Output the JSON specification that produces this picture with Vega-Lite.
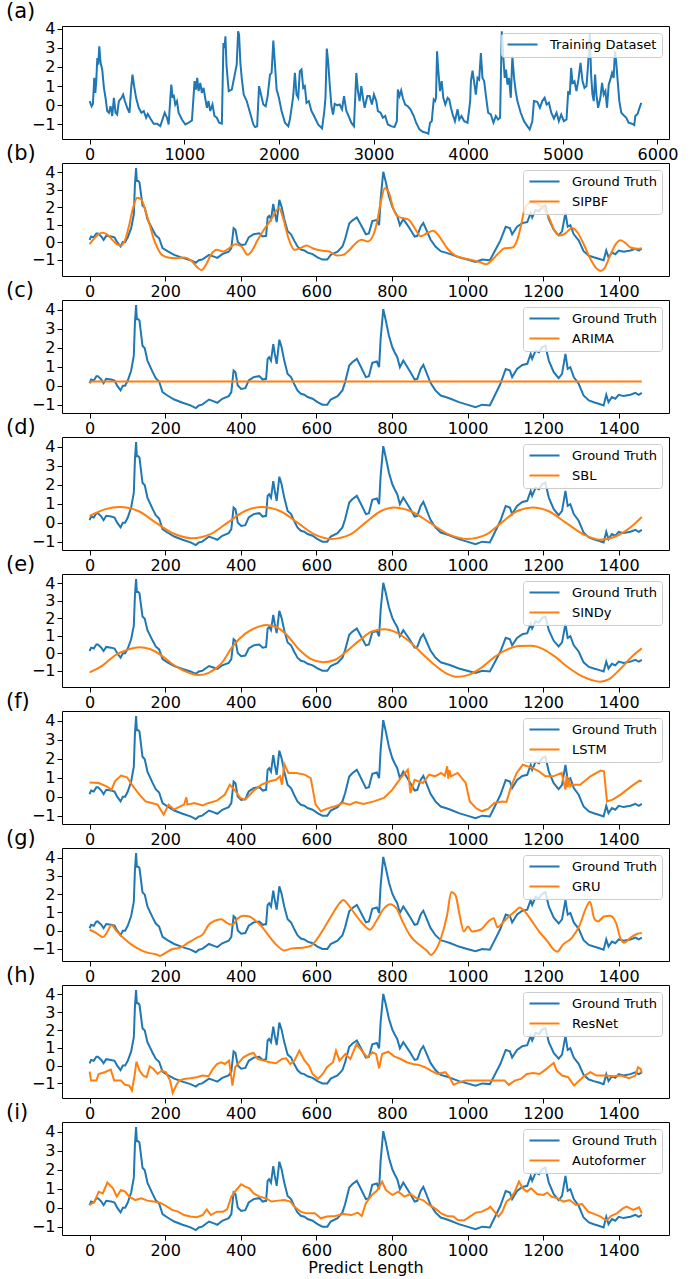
{
"$schema": "https://vega.github.io/schema/vega-lite/v6.json",
"padding": {"left": 5, "right": 5, "top": 0, "bottom": 2},
"background": "white",
"config": {
 "font": "DejaVu Sans",
 "view": {"stroke": "#000", "strokeWidth": 1},
 "axis": {"domain": false, "grid": false, "labelFontSize": 16, "labelFont": "DejaVu Sans", "labelColor": "#000", "tickColor": "#000", "tickSize": 5, "tickWidth": 1, "labelPadding": 2, "titleFontSize": 16, "titleFont": "DejaVu Sans", "titleFontWeight": "normal", "titleColor": "#000", "titlePadding": 1, "labelOverlap": false, "labelFlush": false, "format": "d"},
 "legend": {"orient": "top-right", "offset": 7, "fillColor": "rgba(255,255,255,0.8)", "strokeColor": "#cccccc", "cornerRadius": 3, "padding": 5, "labelFontSize": 13, "labelFont": "DejaVu Sans", "labelColor": "#000", "symbolType": "M-1,0H5", "symbolSize": 100, "symbolStrokeWidth": 2, "rowPadding": 6, "labelOffset": 31},
 "title": {"fontSize": 21, "font": "DejaVu Sans", "fontWeight": "normal", "anchor": "start", "frame": "group", "dx": -56, "offset": -1, "baseline": "alphabetic", "color": "#000"},
 "line": {"strokeWidth": 2}
},
"datasets": {
 "train": [{"x":0,"y":0.22},{"x":21,"y":-0.05},{"x":35,"y":0.08},{"x":49,"y":1.43},{"x":60,"y":0.65},{"x":70,"y":1.26},{"x":81,"y":2.47},{"x":91,"y":2.12},{"x":102,"y":3.08},{"x":116,"y":2.21},{"x":133,"y":1.87},{"x":151,"y":0.91},{"x":168,"y":0.39},{"x":186,"y":-0.3},{"x":204,"y":-0.39},{"x":221,"y":-0.05},{"x":239,"y":-0.56},{"x":256,"y":0.39},{"x":274,"y":-0.39},{"x":291,"y":-0.48},{"x":309,"y":0.22},{"x":337,"y":0.39},{"x":354,"y":0.56},{"x":372,"y":0.22},{"x":397,"y":-0.13},{"x":421,"y":-0.39},{"x":439,"y":0.91},{"x":453,"y":1.6},{"x":470,"y":1.0},{"x":491,"y":0.39},{"x":519,"y":-0.13},{"x":547,"y":-0.39},{"x":572,"y":-0.3},{"x":597,"y":-0.65},{"x":614,"y":-0.45},{"x":642,"y":-0.69},{"x":677,"y":-0.96},{"x":712,"y":-0.96},{"x":747,"y":-1.09},{"x":793,"y":-0.39},{"x":818,"y":-0.65},{"x":835,"y":-1.0},{"x":853,"y":0.39},{"x":863,"y":1.08},{"x":877,"y":0.39},{"x":888,"y":0.56},{"x":905,"y":0.04},{"x":923,"y":0.22},{"x":940,"y":-0.39},{"x":975,"y":-0.74},{"x":1011,"y":-1.0},{"x":1046,"y":-0.91},{"x":1081,"y":-0.79},{"x":1109,"y":1.26},{"x":1123,"y":0.82},{"x":1137,"y":1.43},{"x":1151,"y":0.74},{"x":1169,"y":1.17},{"x":1186,"y":0.65},{"x":1204,"y":0.91},{"x":1221,"y":0.39},{"x":1239,"y":-0.13},{"x":1256,"y":0.22},{"x":1274,"y":-0.3},{"x":1298,"y":0.04},{"x":1319,"y":-0.56},{"x":1344,"y":-0.65},{"x":1368,"y":-0.91},{"x":1397,"y":-0.96},{"x":1414,"y":3.25},{"x":1425,"y":2.99},{"x":1435,"y":3.6},{"x":1446,"y":2.12},{"x":1460,"y":1.26},{"x":1470,"y":0.74},{"x":1502,"y":0.82},{"x":1537,"y":1.69},{"x":1554,"y":2.12},{"x":1569,"y":3.86},{"x":1579,"y":3.69},{"x":1593,"y":2.21},{"x":1607,"y":1.43},{"x":1628,"y":0.56},{"x":1660,"y":0.22},{"x":1695,"y":-0.39},{"x":1730,"y":-1.0},{"x":1748,"y":-1.14},{"x":1770,"y":-1.1},{"x":1790,"y":1.0},{"x":1811,"y":0.56},{"x":1835,"y":0.04},{"x":1860,"y":-0.05},{"x":1881,"y":0.48},{"x":1906,"y":1.6},{"x":1923,"y":1.69},{"x":1941,"y":3.38},{"x":1958,"y":2.12},{"x":1976,"y":0.82},{"x":2000,"y":0.39},{"x":2028,"y":-0.3},{"x":2064,"y":-0.91},{"x":2099,"y":-1.09},{"x":2116,"y":-0.74},{"x":2134,"y":-0.13},{"x":2151,"y":0.48},{"x":2169,"y":1.69},{"x":2186,"y":0.56},{"x":2204,"y":0.39},{"x":2221,"y":1.78},{"x":2239,"y":1.87},{"x":2257,"y":0.91},{"x":2274,"y":1.0},{"x":2292,"y":0.13},{"x":2316,"y":0.22},{"x":2344,"y":-0.3},{"x":2372,"y":-0.56},{"x":2414,"y":-1.0},{"x":2456,"y":-1.21},{"x":2478,"y":-0.39},{"x":2492,"y":0.39},{"x":2506,"y":2.96},{"x":2520,"y":2.3},{"x":2537,"y":1.08},{"x":2555,"y":-0.05},{"x":2572,"y":-0.48},{"x":2590,"y":0.08},{"x":2618,"y":0.0},{"x":2643,"y":0.04},{"x":2667,"y":-0.21},{"x":2688,"y":0.48},{"x":2713,"y":-0.3},{"x":2737,"y":-0.56},{"x":2765,"y":-0.91},{"x":2793,"y":-1.09},{"x":2818,"y":1.69},{"x":2835,"y":0.74},{"x":2853,"y":0.22},{"x":2871,"y":1.0},{"x":2888,"y":0.39},{"x":2906,"y":-0.13},{"x":2934,"y":0.48},{"x":2958,"y":0.48},{"x":2983,"y":0.04},{"x":3004,"y":0.56},{"x":3029,"y":0.22},{"x":3046,"y":-0.3},{"x":3074,"y":-0.39},{"x":3099,"y":-0.65},{"x":3123,"y":-0.56},{"x":3151,"y":-1.0},{"x":3186,"y":-1.09},{"x":3221,"y":-1.14},{"x":3246,"y":-0.83},{"x":3257,"y":0.82},{"x":3274,"y":0.48},{"x":3292,"y":0.77},{"x":3309,"y":0.39},{"x":3334,"y":0.04},{"x":3362,"y":-0.05},{"x":3390,"y":-0.21},{"x":3425,"y":-0.56},{"x":3450,"y":-0.91},{"x":3485,"y":-1.26},{"x":3520,"y":-1.38},{"x":3555,"y":-1.43},{"x":3579,"y":-1.49},{"x":3597,"y":-0.91},{"x":3615,"y":-0.83},{"x":3636,"y":0.3},{"x":3650,"y":0.22},{"x":3660,"y":0.39},{"x":3671,"y":2.82},{"x":3685,"y":1.78},{"x":3702,"y":0.74},{"x":3720,"y":1.26},{"x":3737,"y":0.39},{"x":3758,"y":0.04},{"x":3783,"y":0.39},{"x":3800,"y":0.3},{"x":3818,"y":-0.13},{"x":3836,"y":-0.48},{"x":3860,"y":-0.83},{"x":3888,"y":-0.21},{"x":3906,"y":-0.74},{"x":3930,"y":-0.56},{"x":3958,"y":-0.83},{"x":3993,"y":-0.91},{"x":4021,"y":0.22},{"x":4029,"y":1.26},{"x":4046,"y":1.81},{"x":4064,"y":1.17},{"x":4081,"y":0.56},{"x":4099,"y":1.43},{"x":4116,"y":1.34},{"x":4134,"y":2.73},{"x":4151,"y":1.43},{"x":4169,"y":1.26},{"x":4186,"y":0.56},{"x":4211,"y":-0.39},{"x":4239,"y":-0.48},{"x":4267,"y":-0.91},{"x":4292,"y":-0.56},{"x":4316,"y":-0.74},{"x":4337,"y":-0.65},{"x":4355,"y":3.86},{"x":4372,"y":2.47},{"x":4386,"y":1.43},{"x":4400,"y":1.87},{"x":4415,"y":1.08},{"x":4432,"y":1.43},{"x":4450,"y":0.39},{"x":4467,"y":2.56},{"x":4485,"y":1.43},{"x":4502,"y":0.74},{"x":4520,"y":0.22},{"x":4555,"y":-0.39},{"x":4590,"y":-0.83},{"x":4625,"y":-1.09},{"x":4650,"y":-1.26},{"x":4678,"y":-0.83},{"x":4695,"y":0.22},{"x":4730,"y":0.18},{"x":4758,"y":-0.13},{"x":4783,"y":0.22},{"x":4808,"y":0.39},{"x":4829,"y":0.04},{"x":4853,"y":0.13},{"x":4878,"y":-0.39},{"x":4906,"y":-0.69},{"x":4934,"y":-0.39},{"x":4958,"y":-0.83},{"x":4983,"y":-0.48},{"x":5011,"y":-0.83},{"x":5039,"y":-0.74},{"x":5057,"y":0.74},{"x":5074,"y":0.56},{"x":5088,"y":1.95},{"x":5102,"y":1.17},{"x":5123,"y":1.26},{"x":5144,"y":0.74},{"x":5165,"y":1.34},{"x":5187,"y":2.21},{"x":5208,"y":1.26},{"x":5229,"y":0.91},{"x":5250,"y":1.0},{"x":5267,"y":2.12},{"x":5285,"y":3.77},{"x":5299,"y":1.6},{"x":5313,"y":0.56},{"x":5327,"y":0.22},{"x":5341,"y":1.6},{"x":5355,"y":0.56},{"x":5373,"y":-0.13},{"x":5397,"y":0.39},{"x":5415,"y":1.17},{"x":5432,"y":0.56},{"x":5450,"y":0.74},{"x":5467,"y":-0.13},{"x":5485,"y":1.08},{"x":5502,"y":1.34},{"x":5520,"y":1.69},{"x":5537,"y":1.43},{"x":5551,"y":2.82},{"x":5565,"y":2.21},{"x":5580,"y":1.26},{"x":5597,"y":0.22},{"x":5618,"y":-0.39},{"x":5643,"y":-0.52},{"x":5671,"y":-0.65},{"x":5695,"y":-0.91},{"x":5730,"y":-0.96},{"x":5755,"y":-1.03},{"x":5766,"y":-0.56},{"x":5790,"y":-0.45},{"x":5811,"y":-0.13},{"x":5829,"y":0.13}],
 "gt": [{"x":0,"y":0.13},{"x":4,"y":0.32},{"x":11,"y":0.27},{"x":18,"y":0.5},{"x":22,"y":0.5},{"x":31,"y":0.32},{"x":37,"y":0.13},{"x":44,"y":0.36},{"x":57,"y":0.32},{"x":66,"y":0.27},{"x":73,"y":0},{"x":82,"y":-0.25},{"x":88,"y":0},{"x":94,"y":0},{"x":101,"y":0.27},{"x":110,"y":0.8},{"x":117,"y":1.58},{"x":120,"y":3.33},{"x":123,"y":4.24},{"x":125,"y":3.5},{"x":129,"y":3.5},{"x":132,"y":3.42},{"x":140,"y":2.1},{"x":146,"y":1.97},{"x":153,"y":1.32},{"x":167,"y":0.71},{"x":175,"y":0.39},{"x":184,"y":0.22},{"x":193,"y":-0.34},{"x":206,"y":-0.52},{"x":224,"y":-0.73},{"x":246,"y":-0.9},{"x":267,"y":-1.04},{"x":281,"y":-1.18},{"x":289,"y":-1.04},{"x":298,"y":-1.0},{"x":316,"y":-0.73},{"x":329,"y":-0.83},{"x":338,"y":-0.9},{"x":351,"y":-0.69},{"x":368,"y":-0.55},{"x":375,"y":-0.34},{"x":381,"y":0.8},{"x":386,"y":0.71},{"x":392,"y":0.01},{"x":401,"y":-0.17},{"x":412,"y":-0.13},{"x":421,"y":0.27},{"x":434,"y":0.45},{"x":449,"y":0.5},{"x":458,"y":0.32},{"x":467,"y":0.36},{"x":471,"y":1.41},{"x":475,"y":1.5},{"x":480,"y":1.32},{"x":486,"y":2.19},{"x":490,"y":1.67},{"x":495,"y":1.15},{"x":502,"y":2.42},{"x":508,"y":2.02},{"x":515,"y":1.32},{"x":524,"y":0.62},{"x":533,"y":0.45},{"x":541,"y":0.1},{"x":550,"y":-0.25},{"x":559,"y":-0.43},{"x":568,"y":-0.48},{"x":577,"y":-0.6},{"x":590,"y":-0.69},{"x":603,"y":-0.87},{"x":616,"y":-1.0},{"x":629,"y":-1.0},{"x":638,"y":-0.73},{"x":656,"y":-0.55},{"x":669,"y":-0.25},{"x":676,"y":0.18},{"x":687,"y":1.06},{"x":695,"y":1.23},{"x":707,"y":1.41},{"x":717,"y":1.02},{"x":731,"y":0.45},{"x":739,"y":0.5},{"x":748,"y":1.2},{"x":760,"y":1.27},{"x":766,"y":0.97},{"x":770,"y":2.45},{"x":777,"y":4.03},{"x":783,"y":3.5},{"x":792,"y":2.63},{"x":801,"y":2.02},{"x":807,"y":1.76},{"x":814,"y":1.5},{"x":821,"y":0.97},{"x":830,"y":1.32},{"x":841,"y":0.97},{"x":849,"y":0.71},{"x":860,"y":0.32},{"x":867,"y":0.36},{"x":876,"y":0.88},{"x":883,"y":1.09},{"x":889,"y":0.8},{"x":902,"y":0.15},{"x":915,"y":-0.25},{"x":929,"y":-0.52},{"x":942,"y":-0.6},{"x":955,"y":-0.69},{"x":977,"y":-0.87},{"x":999,"y":-1.0},{"x":1021,"y":-1.13},{"x":1039,"y":-1.0},{"x":1059,"y":-1.04},{"x":1070,"y":-0.6},{"x":1087,"y":0.1},{"x":1101,"y":0.88},{"x":1112,"y":0.8},{"x":1118,"y":0.45},{"x":1131,"y":0.88},{"x":1145,"y":1.09},{"x":1158,"y":1.15},{"x":1167,"y":1.67},{"x":1171,"y":1.41},{"x":1180,"y":1.84},{"x":1189,"y":1.76},{"x":1197,"y":2.02},{"x":1206,"y":2.1},{"x":1215,"y":1.32},{"x":1228,"y":0.71},{"x":1241,"y":0.39},{"x":1250,"y":0.62},{"x":1259,"y":1.67},{"x":1265,"y":0.88},{"x":1272,"y":0.97},{"x":1281,"y":0.45},{"x":1294,"y":0.1},{"x":1307,"y":-0.52},{"x":1321,"y":-0.78},{"x":1334,"y":-0.87},{"x":1347,"y":-0.95},{"x":1360,"y":-1.04},{"x":1367,"y":-0.48},{"x":1373,"y":-0.87},{"x":1382,"y":-0.6},{"x":1391,"y":-0.69},{"x":1400,"y":-0.48},{"x":1413,"y":-0.55},{"x":1431,"y":-0.48},{"x":1444,"y":-0.38},{"x":1453,"y":-0.48},{"x":1461,"y":-0.38}],
 "sipbf": [{"x":0,"y":-0.12},{"x":13,"y":0.23},{"x":24,"y":0.46},{"x":35,"y":0.54},{"x":45,"y":0.46},{"x":56,"y":0.23},{"x":72,"y":-0.12},{"x":83,"y":-0.19},{"x":94,"y":0.13},{"x":105,"y":1.0},{"x":115,"y":1.96},{"x":126,"y":2.54},{"x":137,"y":2.44},{"x":148,"y":1.77},{"x":159,"y":1.0},{"x":169,"y":0.23},{"x":180,"y":-0.35},{"x":191,"y":-0.73},{"x":207,"y":-0.88},{"x":229,"y":-0.92},{"x":250,"y":-0.88},{"x":267,"y":-1.02},{"x":283,"y":-1.4},{"x":296,"y":-1.6},{"x":310,"y":-1.21},{"x":321,"y":-0.73},{"x":337,"y":-0.44},{"x":353,"y":-0.54},{"x":369,"y":-0.35},{"x":385,"y":-0.12},{"x":402,"y":-0.25},{"x":418,"y":-0.73},{"x":428,"y":-0.54},{"x":445,"y":0.13},{"x":461,"y":0.71},{"x":477,"y":1.19},{"x":493,"y":1.77},{"x":501,"y":1.96},{"x":512,"y":1.38},{"x":526,"y":0.23},{"x":542,"y":-0.44},{"x":558,"y":-0.35},{"x":574,"y":-0.19},{"x":590,"y":-0.35},{"x":612,"y":-0.48},{"x":634,"y":-0.54},{"x":655,"y":-0.77},{"x":671,"y":-0.73},{"x":688,"y":-0.44},{"x":704,"y":-0.06},{"x":720,"y":0.13},{"x":736,"y":0.04},{"x":749,"y":0.33},{"x":760,"y":1.1},{"x":771,"y":2.35},{"x":781,"y":3.08},{"x":792,"y":2.83},{"x":803,"y":1.96},{"x":814,"y":1.48},{"x":828,"y":1.38},{"x":844,"y":1.29},{"x":860,"y":0.81},{"x":876,"y":0.33},{"x":893,"y":0.52},{"x":909,"y":0.65},{"x":925,"y":0.33},{"x":947,"y":-0.38},{"x":968,"y":-0.77},{"x":990,"y":-0.92},{"x":1011,"y":-1.02},{"x":1033,"y":-1.15},{"x":1049,"y":-1.27},{"x":1065,"y":-1.02},{"x":1082,"y":-0.63},{"x":1098,"y":-0.35},{"x":1119,"y":-0.31},{"x":1130,"y":0.04},{"x":1141,"y":0.9},{"x":1152,"y":1.96},{"x":1168,"y":2.25},{"x":1184,"y":2.19},{"x":1200,"y":1.96},{"x":1216,"y":1.38},{"x":1231,"y":0.62},{"x":1244,"y":0.38},{"x":1260,"y":0.52},{"x":1276,"y":0.81},{"x":1292,"y":0.52},{"x":1308,"y":-0.15},{"x":1324,"y":-0.92},{"x":1341,"y":-1.5},{"x":1352,"y":-1.65},{"x":1362,"y":-1.5},{"x":1378,"y":-0.73},{"x":1394,"y":-0.06},{"x":1404,"y":0.1},{"x":1415,"y":0.0},{"x":1431,"y":-0.31},{"x":1448,"y":-0.38},{"x":1461,"y":-0.35}],
 "arima": [{"x":0,"y":0.13},{"x":5,"y":0.22},{"x":1461,"y":0.22}],
 "sbl": [{"x":0,"y":0.35},{"x":40,"y":0.7},{"x":80,"y":0.82},{"x":130,"y":0.6},{"x":175,"y":0.0},{"x":225,"y":-0.6},{"x":270,"y":-0.82},{"x":320,"y":-0.6},{"x":365,"y":0.0},{"x":410,"y":0.6},{"x":455,"y":0.82},{"x":505,"y":0.6},{"x":550,"y":0.0},{"x":595,"y":-0.62},{"x":640,"y":-0.86},{"x":690,"y":-0.62},{"x":730,"y":0.0},{"x":770,"y":0.6},{"x":805,"y":0.8},{"x":850,"y":0.6},{"x":900,"y":0.0},{"x":950,"y":-0.62},{"x":1000,"y":-0.86},{"x":1050,"y":-0.62},{"x":1090,"y":0.0},{"x":1130,"y":0.6},{"x":1172,"y":0.8},{"x":1215,"y":0.6},{"x":1260,"y":0.0},{"x":1310,"y":-0.65},{"x":1350,"y":-0.9},{"x":1400,"y":-0.65},{"x":1440,"y":-0.1},{"x":1461,"y":0.3}],
 "sindy": [{"x":0,"y":-1.09},{"x":35,"y":-0.69},{"x":67,"y":-0.13},{"x":99,"y":0.19},{"x":132,"y":0.34},{"x":159,"y":0.24},{"x":186,"y":-0.07},{"x":218,"y":-0.6},{"x":250,"y":-1.01},{"x":288,"y":-1.25},{"x":315,"y":-1.12},{"x":348,"y":-0.6},{"x":380,"y":0.43},{"x":412,"y":1.12},{"x":445,"y":1.5},{"x":466,"y":1.61},{"x":493,"y":1.5},{"x":520,"y":1.09},{"x":553,"y":0.24},{"x":585,"y":-0.32},{"x":617,"y":-0.51},{"x":650,"y":-0.37},{"x":682,"y":0.15},{"x":715,"y":0.75},{"x":747,"y":1.24},{"x":779,"y":1.37},{"x":812,"y":1.18},{"x":844,"y":0.71},{"x":876,"y":0.06},{"x":909,"y":-0.6},{"x":941,"y":-1.12},{"x":974,"y":-1.35},{"x":1001,"y":-1.25},{"x":1033,"y":-0.88},{"x":1071,"y":-0.22},{"x":1103,"y":0.19},{"x":1136,"y":0.41},{"x":1168,"y":0.43},{"x":1200,"y":0.24},{"x":1233,"y":-0.22},{"x":1265,"y":-0.79},{"x":1297,"y":-1.25},{"x":1330,"y":-1.54},{"x":1351,"y":-1.63},{"x":1373,"y":-1.5},{"x":1405,"y":-0.88},{"x":1438,"y":-0.13},{"x":1461,"y":0.28}],
 "lstm": [{"x":0,"y":0.75},{"x":24,"y":0.72},{"x":45,"y":0.54},{"x":58,"y":0.37},{"x":67,"y":0.81},{"x":83,"y":1.11},{"x":99,"y":1.02},{"x":115,"y":0.54},{"x":132,"y":0.11},{"x":148,"y":-0.25},{"x":164,"y":-0.33},{"x":180,"y":-0.42},{"x":196,"y":-0.95},{"x":209,"y":-0.42},{"x":223,"y":-0.68},{"x":240,"y":-0.51},{"x":250,"y":-0.42},{"x":256,"y":-0.04},{"x":259,"y":-0.42},{"x":277,"y":-0.33},{"x":299,"y":-0.46},{"x":315,"y":-0.33},{"x":337,"y":-0.21},{"x":358,"y":0.11},{"x":371,"y":0.63},{"x":385,"y":0.32},{"x":399,"y":-0.07},{"x":412,"y":-0.16},{"x":434,"y":0.32},{"x":455,"y":0.63},{"x":477,"y":0.81},{"x":493,"y":0.89},{"x":504,"y":1.07},{"x":509,"y":0.63},{"x":515,"y":1.72},{"x":526,"y":1.25},{"x":547,"y":1.25},{"x":569,"y":1.16},{"x":585,"y":0.98},{"x":598,"y":-0.42},{"x":612,"y":-0.77},{"x":628,"y":-0.63},{"x":650,"y":-0.51},{"x":671,"y":-0.33},{"x":688,"y":-0.42},{"x":704,"y":-0.28},{"x":725,"y":-0.39},{"x":752,"y":-0.25},{"x":779,"y":-0.07},{"x":801,"y":0.37},{"x":822,"y":0.95},{"x":842,"y":1.42},{"x":849,"y":0.19},{"x":860,"y":0.89},{"x":882,"y":0.72},{"x":898,"y":1.16},{"x":914,"y":1.07},{"x":930,"y":1.25},{"x":940,"y":1.1},{"x":946,"y":1.6},{"x":949,"y":0.95},{"x":952,"y":1.4},{"x":956,"y":1.07},{"x":974,"y":1.25},{"x":995,"y":0.72},{"x":1006,"y":-0.25},{"x":1022,"y":-0.6},{"x":1038,"y":-0.77},{"x":1055,"y":-0.63},{"x":1071,"y":-0.33},{"x":1092,"y":-0.25},{"x":1103,"y":-0.28},{"x":1114,"y":0.46},{"x":1130,"y":1.25},{"x":1146,"y":1.68},{"x":1168,"y":1.54},{"x":1189,"y":1.33},{"x":1206,"y":1.07},{"x":1227,"y":1.07},{"x":1249,"y":1.25},{"x":1259,"y":0.37},{"x":1262,"y":1.1},{"x":1265,"y":0.5},{"x":1268,"y":0.95},{"x":1272,"y":0.55},{"x":1276,"y":0.63},{"x":1298,"y":0.63},{"x":1325,"y":1.07},{"x":1352,"y":1.37},{"x":1361,"y":1.33},{"x":1369,"y":-0.25},{"x":1384,"y":-0.16},{"x":1405,"y":0.11},{"x":1433,"y":0.54},{"x":1455,"y":0.84},{"x":1461,"y":0.81}],
 "gru": [{"x":0,"y":0.05},{"x":18,"y":-0.13},{"x":35,"y":-0.36},{"x":45,"y":-0.13},{"x":58,"y":0.29},{"x":72,"y":-0.04},{"x":89,"y":-0.39},{"x":110,"y":-0.75},{"x":132,"y":-1.02},{"x":153,"y":-1.2},{"x":175,"y":-1.29},{"x":186,"y":-1.38},{"x":202,"y":-1.2},{"x":218,"y":-1.02},{"x":240,"y":-0.93},{"x":261,"y":-0.66},{"x":283,"y":-0.39},{"x":299,"y":-0.22},{"x":315,"y":0.32},{"x":331,"y":0.54},{"x":348,"y":0.63},{"x":364,"y":0.41},{"x":378,"y":0.32},{"x":391,"y":0.65},{"x":407,"y":0.82},{"x":423,"y":0.77},{"x":439,"y":0.54},{"x":455,"y":0.23},{"x":472,"y":-0.22},{"x":493,"y":-0.75},{"x":515,"y":-1.08},{"x":536,"y":-0.97},{"x":563,"y":-0.93},{"x":585,"y":-0.84},{"x":601,"y":-0.48},{"x":623,"y":0.23},{"x":644,"y":0.95},{"x":661,"y":1.49},{"x":671,"y":1.67},{"x":688,"y":1.31},{"x":704,"y":0.86},{"x":725,"y":0.32},{"x":742,"y":0.05},{"x":758,"y":0.5},{"x":779,"y":1.22},{"x":795,"y":1.45},{"x":812,"y":1.22},{"x":828,"y":0.5},{"x":849,"y":-0.3},{"x":871,"y":-0.75},{"x":893,"y":-1.11},{"x":903,"y":-1.33},{"x":914,"y":-1.11},{"x":930,"y":-0.39},{"x":946,"y":0.86},{"x":957,"y":2.11},{"x":968,"y":1.94},{"x":979,"y":0.86},{"x":990,"y":-0.04},{"x":1001,"y":0.23},{"x":1012,"y":-0.04},{"x":1034,"y":0.05},{"x":1055,"y":0.5},{"x":1069,"y":0.68},{"x":1079,"y":0.18},{"x":1092,"y":0.41},{"x":1109,"y":0.77},{"x":1125,"y":1.04},{"x":1138,"y":1.27},{"x":1152,"y":1.04},{"x":1168,"y":0.59},{"x":1189,"y":-0.04},{"x":1211,"y":-0.57},{"x":1227,"y":-1.02},{"x":1237,"y":-1.15},{"x":1253,"y":-0.75},{"x":1276,"y":-0.39},{"x":1297,"y":0.32},{"x":1313,"y":1.22},{"x":1324,"y":1.58},{"x":1335,"y":0.68},{"x":1345,"y":0.5},{"x":1361,"y":0.77},{"x":1377,"y":0.82},{"x":1393,"y":0.41},{"x":1404,"y":-0.39},{"x":1415,"y":-0.66},{"x":1431,"y":-0.39},{"x":1448,"y":-0.18},{"x":1461,"y":-0.13}],
 "resnet": [{"x":0,"y":-0.34},{"x":4,"y":-0.84},{"x":18,"y":-0.84},{"x":24,"y":-0.47},{"x":40,"y":-0.37},{"x":56,"y":-0.22},{"x":65,"y":-0.84},{"x":83,"y":-0.84},{"x":94,"y":-1.08},{"x":105,"y":-1.12},{"x":112,"y":-1.4},{"x":119,"y":-0.56},{"x":124,"y":0.22},{"x":132,"y":-0.28},{"x":142,"y":-0.56},{"x":151,"y":-0.65},{"x":159,"y":-0.04},{"x":169,"y":-0.19},{"x":180,"y":-0.47},{"x":191,"y":-0.28},{"x":202,"y":-0.37},{"x":213,"y":-0.84},{"x":220,"y":-1.53},{"x":229,"y":-1.12},{"x":237,"y":-0.84},{"x":250,"y":-0.75},{"x":267,"y":-0.71},{"x":283,"y":-0.65},{"x":299,"y":-0.56},{"x":315,"y":-0.6},{"x":326,"y":-0.19},{"x":337,"y":0.09},{"x":348,"y":0.19},{"x":358,"y":0.09},{"x":369,"y":0.28},{"x":378,"y":-1.12},{"x":385,"y":-0.09},{"x":396,"y":0.19},{"x":407,"y":0.47},{"x":423,"y":0.65},{"x":434,"y":0.71},{"x":445,"y":0.37},{"x":461,"y":0.28},{"x":477,"y":0.19},{"x":493,"y":0.13},{"x":509,"y":0.37},{"x":520,"y":0.41},{"x":531,"y":0.09},{"x":542,"y":0.28},{"x":555,"y":0.84},{"x":569,"y":0.28},{"x":580,"y":0.0},{"x":590,"y":-0.47},{"x":604,"y":-0.75},{"x":617,"y":-0.47},{"x":628,"y":-0.09},{"x":644,"y":0.19},{"x":652,"y":0.84},{"x":661,"y":0.28},{"x":677,"y":0.65},{"x":690,"y":0.37},{"x":706,"y":1.21},{"x":720,"y":0.84},{"x":734,"y":0.47},{"x":749,"y":0.75},{"x":758,"y":0.65},{"x":766,"y":-0.15},{"x":774,"y":0.65},{"x":790,"y":0.78},{"x":806,"y":0.52},{"x":823,"y":0.37},{"x":839,"y":0.19},{"x":855,"y":0.09},{"x":871,"y":0.04},{"x":887,"y":-0.09},{"x":903,"y":-0.28},{"x":920,"y":-0.47},{"x":941,"y":-0.37},{"x":952,"y":-0.65},{"x":963,"y":-1.08},{"x":979,"y":-0.93},{"x":995,"y":-0.84},{"x":1017,"y":-0.84},{"x":1038,"y":-0.84},{"x":1060,"y":-0.84},{"x":1082,"y":-0.84},{"x":1098,"y":-0.84},{"x":1109,"y":-1.08},{"x":1125,"y":-0.84},{"x":1141,"y":-0.75},{"x":1157,"y":-0.47},{"x":1174,"y":-0.41},{"x":1190,"y":-0.47},{"x":1203,"y":-0.28},{"x":1217,"y":-0.04},{"x":1228,"y":0.15},{"x":1236,"y":-0.28},{"x":1250,"y":-0.56},{"x":1266,"y":-0.65},{"x":1282,"y":-1.12},{"x":1296,"y":-0.84},{"x":1310,"y":-0.56},{"x":1325,"y":-0.37},{"x":1341,"y":-0.56},{"x":1363,"y":-0.56},{"x":1384,"y":-0.6},{"x":1405,"y":-0.56},{"x":1428,"y":-0.71},{"x":1444,"y":-0.56},{"x":1451,"y":-0.09},{"x":1458,"y":-0.19},{"x":1461,"y":-0.41}],
 "autoformer": [{"x":0,"y":0.14},{"x":13,"y":0.32},{"x":24,"y":0.84},{"x":35,"y":0.75},{"x":47,"y":1.32},{"x":62,"y":1.02},{"x":72,"y":0.58},{"x":83,"y":0.93},{"x":94,"y":0.84},{"x":105,"y":0.58},{"x":121,"y":0.4},{"x":137,"y":0.49},{"x":153,"y":0.37},{"x":169,"y":0.32},{"x":186,"y":0.26},{"x":202,"y":0.09},{"x":218,"y":-0.12},{"x":234,"y":-0.21},{"x":250,"y":-0.39},{"x":267,"y":-0.47},{"x":283,"y":-0.51},{"x":299,"y":-0.39},{"x":310,"y":-0.09},{"x":321,"y":-0.39},{"x":337,"y":-0.21},{"x":353,"y":-0.21},{"x":364,"y":-0.09},{"x":375,"y":0.58},{"x":388,"y":0.93},{"x":401,"y":1.23},{"x":412,"y":1.11},{"x":423,"y":1.02},{"x":434,"y":0.75},{"x":450,"y":0.58},{"x":466,"y":0.49},{"x":482,"y":0.32},{"x":499,"y":0.37},{"x":515,"y":0.4},{"x":531,"y":0.32},{"x":542,"y":0.05},{"x":558,"y":-0.21},{"x":574,"y":-0.3},{"x":596,"y":-0.3},{"x":612,"y":-0.56},{"x":628,"y":-0.47},{"x":650,"y":-0.44},{"x":671,"y":-0.33},{"x":693,"y":-0.39},{"x":709,"y":-0.26},{"x":720,"y":-0.44},{"x":731,"y":0.23},{"x":747,"y":0.67},{"x":760,"y":0.89},{"x":774,"y":1.37},{"x":784,"y":0.93},{"x":801,"y":0.67},{"x":817,"y":0.84},{"x":833,"y":0.58},{"x":849,"y":0.72},{"x":865,"y":0.49},{"x":882,"y":0.4},{"x":898,"y":0.14},{"x":914,"y":-0.04},{"x":930,"y":-0.3},{"x":946,"y":-0.44},{"x":963,"y":-0.47},{"x":974,"y":-0.65},{"x":990,"y":-0.68},{"x":1006,"y":-0.47},{"x":1022,"y":-0.26},{"x":1038,"y":-0.21},{"x":1055,"y":-0.04},{"x":1060,"y":0.05},{"x":1071,"y":-0.21},{"x":1082,"y":-0.47},{"x":1092,"y":-0.21},{"x":1103,"y":0.32},{"x":1114,"y":0.49},{"x":1125,"y":0.84},{"x":1136,"y":1.37},{"x":1146,"y":1.02},{"x":1157,"y":0.84},{"x":1168,"y":1.02},{"x":1184,"y":0.72},{"x":1200,"y":0.67},{"x":1211,"y":0.79},{"x":1222,"y":0.58},{"x":1238,"y":0.49},{"x":1254,"y":0.32},{"x":1270,"y":0.4},{"x":1287,"y":0.14},{"x":1303,"y":0.19},{"x":1319,"y":-0.21},{"x":1335,"y":-0.33},{"x":1352,"y":-0.47},{"x":1368,"y":-0.68},{"x":1379,"y":-0.44},{"x":1395,"y":-0.3},{"x":1411,"y":-0.04},{"x":1421,"y":0.05},{"x":1438,"y":-0.12},{"x":1454,"y":0.02},{"x":1461,"y":-0.3}]
},
"spacing": 24,
"bounds": "flush",
"resolve": {"scale": {"x": "independent", "y": "independent", "color": "independent"}},
"vconcat": [
 {"title": "(a)", "width": 607, "height": 113, "data": {"name": "train"}, "mark": {"type": "line", "strokeWidth": 2},
  "encoding": {
   "x": {"field": "x", "type": "quantitative", "scale": {"domain": [-292, 6122], "nice": false, "zero": false}, "axis": {"values": [0,1000,2000,3000,4000,5000,6000], "title": null}},
   "y": {"field": "y", "type": "quantitative", "scale": {"domain": [-1.76, 4.14], "nice": false, "zero": false}, "axis": {"values": [-1,0,1,2,3,4], "title": null}},
   "color": {"datum": "Training Dataset", "type": "nominal", "scale": {"domain": ["Training Dataset"], "range": ["#1f77b4"]}, "legend": {"title": null}}}},
 {"title": "(b)", "width": 607, "height": 113,
  "encoding": {
   "x": {"field": "x", "type": "quantitative", "scale": {"domain": [-73, 1533], "nice": false, "zero": false}, "axis": {"values": [0,200,400,600,800,1000,1200,1400], "title": null}},
   "y": {"field": "y", "type": "quantitative", "scale": {"domain": [-1.94, 4.53], "nice": false, "zero": false}, "axis": {"values": [-1,0,1,2,3,4], "title": null}}},
  "layer": [
  {"data": {"name": "gt"}, "mark": {"type": "line", "strokeWidth": 2}, "encoding": {
   "color": {"datum": "Ground Truth", "type": "nominal", "scale": {"domain": ["Ground Truth", "SIPBF"], "range": ["#1f77b4", "#ff7f0e"]}, "legend": {"title": null}}}},
  {"data": {"name": "sipbf"}, "mark": {"type": "line", "strokeWidth": 2, "interpolate": "monotone"}, "encoding": {
   "color": {"datum": "SIPBF", "type": "nominal"}}}]},
 {"title": "(c)", "width": 607, "height": 113,
  "encoding": {
   "x": {"field": "x", "type": "quantitative", "scale": {"domain": [-73, 1533], "nice": false, "zero": false}, "axis": {"values": [0,200,400,600,800,1000,1200,1400], "title": null}},
   "y": {"field": "y", "type": "quantitative", "scale": {"domain": [-1.44, 4.51], "nice": false, "zero": false}, "axis": {"values": [-1,0,1,2,3,4], "title": null}}},
  "layer": [
  {"data": {"name": "gt"}, "mark": {"type": "line", "strokeWidth": 2}, "encoding": {
   "color": {"datum": "Ground Truth", "type": "nominal", "scale": {"domain": ["Ground Truth", "ARIMA"], "range": ["#1f77b4", "#ff7f0e"]}, "legend": {"title": null}}}},
  {"data": {"name": "arima"}, "mark": {"type": "line", "strokeWidth": 2}, "encoding": {
   "color": {"datum": "ARIMA", "type": "nominal"}}}]},
 {"title": "(d)", "width": 607, "height": 113,
  "encoding": {
   "x": {"field": "x", "type": "quantitative", "scale": {"domain": [-73, 1533], "nice": false, "zero": false}, "axis": {"values": [0,200,400,600,800,1000,1200,1400], "title": null}},
   "y": {"field": "y", "type": "quantitative", "scale": {"domain": [-1.44, 4.51], "nice": false, "zero": false}, "axis": {"values": [-1,0,1,2,3,4], "title": null}}},
  "layer": [
  {"data": {"name": "gt"}, "mark": {"type": "line", "strokeWidth": 2}, "encoding": {
   "color": {"datum": "Ground Truth", "type": "nominal", "scale": {"domain": ["Ground Truth", "SBL"], "range": ["#1f77b4", "#ff7f0e"]}, "legend": {"title": null}}}},
  {"data": {"name": "sbl"}, "mark": {"type": "line", "strokeWidth": 2, "interpolate": "monotone"}, "encoding": {
   "color": {"datum": "SBL", "type": "nominal"}}}]},
 {"title": "(e)", "width": 607, "height": 113,
  "encoding": {
   "x": {"field": "x", "type": "quantitative", "scale": {"domain": [-73, 1533], "nice": false, "zero": false}, "axis": {"values": [0,200,400,600,800,1000,1200,1400], "title": null}},
   "y": {"field": "y", "type": "quantitative", "scale": {"domain": [-1.93, 4.53], "nice": false, "zero": false}, "axis": {"values": [-1,0,1,2,3,4], "title": null}}},
  "layer": [
  {"data": {"name": "gt"}, "mark": {"type": "line", "strokeWidth": 2}, "encoding": {
   "color": {"datum": "Ground Truth", "type": "nominal", "scale": {"domain": ["Ground Truth", "SINDy"], "range": ["#1f77b4", "#ff7f0e"]}, "legend": {"title": null}}}},
  {"data": {"name": "sindy"}, "mark": {"type": "line", "strokeWidth": 2, "interpolate": "monotone"}, "encoding": {
   "color": {"datum": "SINDy", "type": "nominal"}}}]},
 {"title": "(f)", "width": 607, "height": 113,
  "encoding": {
   "x": {"field": "x", "type": "quantitative", "scale": {"domain": [-73, 1533], "nice": false, "zero": false}, "axis": {"values": [0,200,400,600,800,1000,1200,1400], "title": null}},
   "y": {"field": "y", "type": "quantitative", "scale": {"domain": [-1.44, 4.51], "nice": false, "zero": false}, "axis": {"values": [-1,0,1,2,3,4], "title": null}}},
  "layer": [
  {"data": {"name": "gt"}, "mark": {"type": "line", "strokeWidth": 2}, "encoding": {
   "color": {"datum": "Ground Truth", "type": "nominal", "scale": {"domain": ["Ground Truth", "LSTM"], "range": ["#1f77b4", "#ff7f0e"]}, "legend": {"title": null}}}},
  {"data": {"name": "lstm"}, "mark": {"type": "line", "strokeWidth": 2}, "encoding": {
   "color": {"datum": "LSTM", "type": "nominal"}}}]},
 {"title": "(g)", "width": 607, "height": 113,
  "encoding": {
   "x": {"field": "x", "type": "quantitative", "scale": {"domain": [-73, 1533], "nice": false, "zero": false}, "axis": {"values": [0,200,400,600,800,1000,1200,1400], "title": null}},
   "y": {"field": "y", "type": "quantitative", "scale": {"domain": [-1.66, 4.52], "nice": false, "zero": false}, "axis": {"values": [-1,0,1,2,3,4], "title": null}}},
  "layer": [
  {"data": {"name": "gt"}, "mark": {"type": "line", "strokeWidth": 2}, "encoding": {
   "color": {"datum": "Ground Truth", "type": "nominal", "scale": {"domain": ["Ground Truth", "GRU"], "range": ["#1f77b4", "#ff7f0e"]}, "legend": {"title": null}}}},
  {"data": {"name": "gru"}, "mark": {"type": "line", "strokeWidth": 2, "interpolate": "monotone"}, "encoding": {
   "color": {"datum": "GRU", "type": "nominal"}}}]},
 {"title": "(h)", "width": 607, "height": 113,
  "encoding": {
   "x": {"field": "x", "type": "quantitative", "scale": {"domain": [-73, 1533], "nice": false, "zero": false}, "axis": {"values": [0,200,400,600,800,1000,1200,1400], "title": null}},
   "y": {"field": "y", "type": "quantitative", "scale": {"domain": [-1.82, 4.53], "nice": false, "zero": false}, "axis": {"values": [-1,0,1,2,3,4], "title": null}}},
  "layer": [
  {"data": {"name": "gt"}, "mark": {"type": "line", "strokeWidth": 2}, "encoding": {
   "color": {"datum": "Ground Truth", "type": "nominal", "scale": {"domain": ["Ground Truth", "ResNet"], "range": ["#1f77b4", "#ff7f0e"]}, "legend": {"title": null}}}},
  {"data": {"name": "resnet"}, "mark": {"type": "line", "strokeWidth": 2}, "encoding": {
   "color": {"datum": "ResNet", "type": "nominal"}}}]},
 {"title": "(i)", "width": 607, "height": 113,
  "encoding": {
   "x": {"field": "x", "type": "quantitative", "scale": {"domain": [-73, 1533], "nice": false, "zero": false}, "axis": {"values": [0,200,400,600,800,1000,1200,1400], "title": "Predict Length"}},
   "y": {"field": "y", "type": "quantitative", "scale": {"domain": [-1.44, 4.51], "nice": false, "zero": false}, "axis": {"values": [-1,0,1,2,3,4], "title": null}}},
  "layer": [
  {"data": {"name": "gt"}, "mark": {"type": "line", "strokeWidth": 2}, "encoding": {
   "color": {"datum": "Ground Truth", "type": "nominal", "scale": {"domain": ["Ground Truth", "Autoformer"], "range": ["#1f77b4", "#ff7f0e"]}, "legend": {"title": null}}}},
  {"data": {"name": "autoformer"}, "mark": {"type": "line", "strokeWidth": 2}, "encoding": {
   "color": {"datum": "Autoformer", "type": "nominal"}}}]}
]
}
